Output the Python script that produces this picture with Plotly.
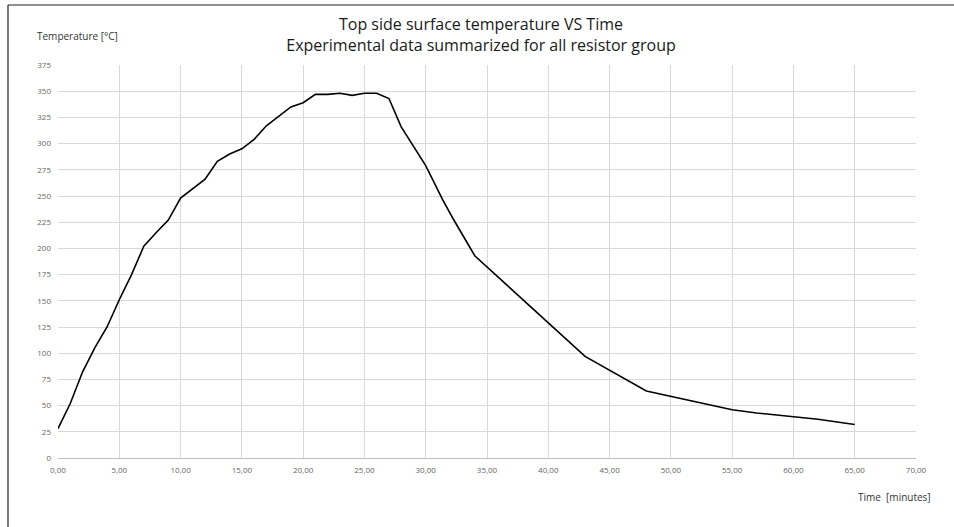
import plotly.graph_objects as go

time_min = [0, 1, 2, 3, 4, 5, 6, 7, 8, 9, 10, 11, 12, 13, 14, 15, 16, 17, 18, 19, 20,
            21, 22, 23, 24, 25, 26, 27, 28, 30, 31.4, 32.2, 34, 43, 48, 50, 52, 55, 57, 60, 62, 65]
temp_c = [28, 52, 82, 105, 125, 151, 175, 202, 215, 227, 248, 257, 266, 283, 290, 295, 304, 317, 326, 335, 339,
          347, 347, 348, 346, 348, 348, 343, 316, 279, 246, 229, 193, 97, 64, 59, 54, 46, 43, 39, 37, 32]

x_ticks = [0, 5, 10, 15, 20, 25, 30, 35, 40, 45, 50, 55, 60, 65, 70]
y_ticks = list(range(0, 376, 25))

title_text = "Top side surface temperature VS Time<br>Experimental data summarized for all resistor group"
y_label = "Temperature [°C]"
x_label = "Time  [minutes]"

W, H = 954, 527
L, R, T, B = 58, 38, 65, 69
pw, ph = W - L - R, H - T - B

fig = go.Figure()
fig.add_trace(go.Scatter(x=time_min, y=temp_c, mode="lines",
                         line=dict(color="#000000", width=1.6), showlegend=False))

font_family = "Open Sans, Noto Sans, sans-serif"
fig.update_layout(
    width=W, height=H,
    margin=dict(l=L, r=R, t=T, b=B),
    paper_bgcolor="white", plot_bgcolor="white",
    separators=", ",
    title=dict(text=title_text, x=481 / W, xanchor="center", y=1 - 30 / H, yanchor="top",
               font=dict(family=font_family, size=16, color="#1a1a1a")),
    xaxis=dict(range=[0, 70], tickvals=x_ticks, tickformat=".2f",
               showgrid=True, gridcolor="#d9d9d9", gridwidth=1,
               showline=True, linecolor="#bfbfbf", linewidth=1, zeroline=False,
               ticks="", ticklabelstandoff=4,
               tickfont=dict(family=font_family, size=8, color="#666666")),
    yaxis=dict(range=[0, 375], tickvals=y_ticks,
               showgrid=True, gridcolor="#d9d9d9", gridwidth=1,
               showline=False, zeroline=False,
               ticks="", ticklabelstandoff=6,
               tickfont=dict(family=font_family, size=8, color="#666666")),
    annotations=[
        dict(text=y_label, xref="paper", yref="paper",
             x=(35 - L) / pw, y=1 + (T - 36) / ph, xanchor="left", yanchor="middle",
             showarrow=False, font=dict(family=font_family, size=10, color="#333333")),
        dict(text=x_label, xref="paper", yref="paper",
             x=(933 - L) / pw, y=-(497 - (T + ph)) / ph, xanchor="right", yanchor="middle",
             showarrow=False, font=dict(family=font_family, size=10, color="#333333")),
    ],
    shapes=[
        dict(type="line", xref="paper", yref="paper",
             x0=(8 - L) / pw, x1=(W - L) / pw, y0=1 + (T - 5) / ph, y1=1 + (T - 5) / ph,
             line=dict(color="#222222", width=1.2)),
        dict(type="line", xref="paper", yref="paper",
             x0=(8 - L) / pw, x1=(8 - L) / pw, y0=1 + (T - 5) / ph, y1=-(H - (T + ph)) / ph,
             line=dict(color="#222222", width=1.2)),
    ],
)

fig.write_html("out.html", config={"displayModeBar": False},
               post_script="document.body.style.margin='0';")
